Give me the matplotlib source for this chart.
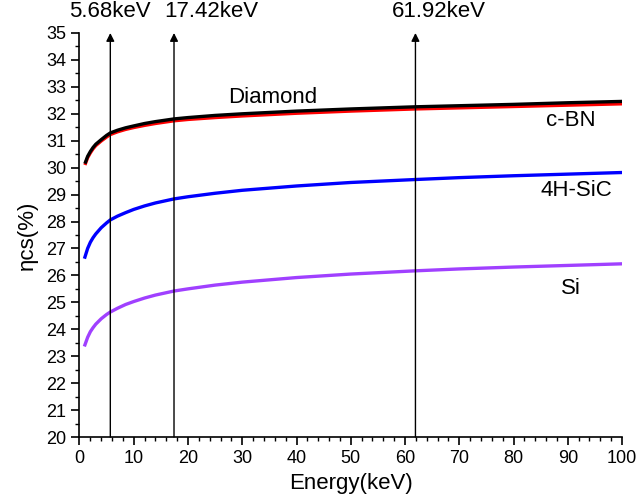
import matplotlib.pyplot as plt
from matplotlib.ticker import MultipleLocator

plt.rcParams['font.family'] = ['Liberation Sans', 'DejaVu Sans']

# energy grid (keV) and efficiency values (%)
energy = [1, 1.5, 2, 2.5, 3, 4, 5, 5.68, 7, 8.5, 10, 12, 14, 17.42, 20, 25, 30,
          40, 50, 61.92, 70, 80, 90, 100]
diamond = [30.15, 30.42, 30.6, 30.75, 30.87, 31.04, 31.2, 31.29, 31.39, 31.48, 31.55, 31.64,
           31.71, 31.81, 31.86, 31.94, 32.0, 32.1, 32.18, 32.26, 32.3, 32.35, 32.41, 32.46]
cbn = [30.1, 30.37, 30.55, 30.7, 30.82, 30.99, 31.14, 31.23, 31.33, 31.42, 31.49, 31.57,
       31.64, 31.74, 31.79, 31.86, 31.92, 32.02, 32.1, 32.18, 32.22, 32.27, 32.32, 32.37]
sic = [26.68, 27.0, 27.23, 27.4, 27.54, 27.77, 27.95, 28.06, 28.2, 28.33, 28.45, 28.58,
       28.69, 28.84, 28.92, 29.05, 29.16, 29.32, 29.45, 29.56, 29.63, 29.7, 29.76, 29.82]
si = [23.42, 23.7, 23.91, 24.06, 24.19, 24.39, 24.55, 24.64, 24.78, 24.92, 25.03, 25.16,
      25.27, 25.42, 25.5, 25.64, 25.75, 25.92, 26.05, 26.17, 26.24, 26.31, 26.37, 26.43]

marker_energy = [5.68, 17.42, 61.92]
marker_labels = ['5.68keV', '17.42keV', '61.92keV']
marker_text_x = [5.68, 15.6, 57.5]

fig = plt.figure(figsize=(6.38, 5.03), dpi=100)
ax = fig.add_axes([0.1246, 0.1312, 0.8504, 0.8032])

ax.plot(energy, cbn, color='red', lw=2.4, solid_capstyle='butt')
ax.plot(energy, diamond, color='black', lw=2.4, solid_capstyle='butt')
ax.plot(energy, sic, color='#0000ff', lw=2.4)
ax.plot(energy, si, color='#a040ff', lw=2.4)

for e, lab, tx in zip(marker_energy, marker_labels, marker_text_x):
    ax.annotate('', xy=(e, 35), xytext=(e, 20),
                arrowprops=dict(arrowstyle='-|>', color='black', lw=1.0,
                                mutation_scale=12, shrinkA=0, shrinkB=0),
                annotation_clip=False)
    ha = 'center' if e < 10 else 'left'
    ax.text(tx, 35.8, lab, ha=ha, va='center', fontsize=16)

ax.text(35.7, 32.62, 'Diamond', ha='center', va='center', fontsize=16)
ax.text(90.5, 31.75, 'c-BN', ha='center', va='center', fontsize=16)
ax.text(91.5, 29.15, '4H-SiC', ha='center', va='center', fontsize=16)
ax.text(90.5, 25.5, 'Si', ha='center', va='center', fontsize=16)

ax.set_xlim(0, 100)
ax.set_ylim(20, 35)
ax.xaxis.set_major_locator(MultipleLocator(10))
ax.xaxis.set_minor_locator(MultipleLocator(2))
ax.yaxis.set_major_locator(MultipleLocator(1))
ax.yaxis.set_minor_locator(MultipleLocator(0.5))
ax.tick_params(which='major', length=6, width=1.2, labelsize=13, direction='out')
ax.tick_params(which='minor', length=3, width=1.0, direction='out')
ax.spines['top'].set_visible(False)
ax.spines['right'].set_visible(False)
ax.spines['left'].set_linewidth(1.2)
ax.spines['bottom'].set_linewidth(1.2)

ax.set_xlabel('Energy(keV)', fontsize=16, labelpad=4)
ax.set_ylabel('ηcs(%)', fontsize=16, labelpad=6)

plt.savefig('out.png', dpi=100)
